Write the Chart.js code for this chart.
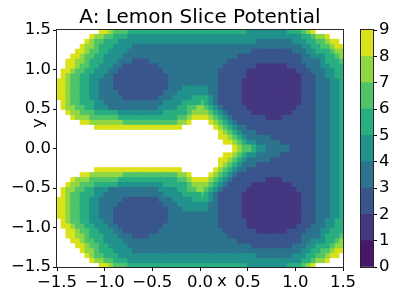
<!DOCTYPE html>
<html>
<head>
<meta charset="utf-8">
<script src="https://cdn.jsdelivr.net/npm/chart.js@4.4.1/dist/chart.umd.min.js"></script>
<style>
  html, body { margin: 0; padding: 0; background: #fff; }
  #wrap { position: relative; width: 399px; height: 299px; }
  #main { position: absolute; left: 0; top: 0; }
  #cbar { position: absolute; left: 350px; top: 0; }
</style>
</head>
<body>
<div id="wrap">
  <canvas id="main" width="399" height="299"></canvas>
  <canvas id="cbar" width="49" height="299"></canvas>
</div>
<script>
// cell centres of the sampled grid (x left->right, y top->bottom)
const xGrid = [-1.475,-1.425,-1.375,-1.325,-1.275,-1.225,-1.175,-1.125,-1.075,-1.025,
  -0.975,-0.925,-0.875,-0.825,-0.775,-0.725,-0.675,-0.625,-0.575,-0.525,
  -0.475,-0.425,-0.375,-0.325,-0.275,-0.225,-0.175,-0.125,-0.075,-0.025,
  0.025,0.075,0.125,0.175,0.225,0.275,0.325,0.375,0.425,0.475,
  0.525,0.575,0.625,0.675,0.725,0.775,0.825,0.875,0.925,0.975,
  1.025,1.075,1.125,1.175,1.225,1.275,1.325,1.375,1.425,1.475];
const yGrid = [1.46875,1.40625,1.34375,1.28125,1.21875,1.15625,1.09375,1.03125,
  0.96875,0.90625,0.84375,0.78125,0.71875,0.65625,0.59375,0.53125,
  0.46875,0.40625,0.34375,0.28125,0.21875,0.15625,0.09375,0.03125,
  -0.03125,-0.09375,-0.15625,-0.21875,-0.28125,-0.34375,-0.40625,-0.46875,
  -0.53125,-0.59375,-0.65625,-0.71875,-0.78125,-0.84375,-0.90625,-0.96875,
  -1.03125,-1.09375,-1.15625,-1.21875,-1.28125,-1.34375,-1.40625,-1.46875];

// contour band of each cell ('.' = above 9, left white)
const bandRows = [
  ".........8 8766655555 5555555555 5555555555 4444444455 5678......",
  ".......877 6655544444 4444444444 4444444444 4444444444 4556778...",
  "......8766 5554444444 4444444444 4444444444 4433333334 445566788.",
  ".....87765 5544443333 3333333333 3333333333 3333333333 3445566788",
  "....887665 5444433333 3333333333 3333333333 3222222223 3344555677",
  "...8876655 4444333333 3333333333 3333333322 2222222222 2334445567",
  "..88776555 4443332223 3333333333 3333332222 2222222222 2333345556",
  "..88766554 4433222222 2333333333 3333322222 2211111122 2233344555",
  ".887665544 4332222222 2233333333 3333222222 1111111111 2223334455",
  ".876655444 3322222222 2223333333 3333222222 1111111111 1222334455",
  "8876655443 3322222222 2223333333 3333222221 1111111111 1222333445",
  "8876655443 3322222222 2223334444 4433222221 1111111111 1222333445",
  "8876655443 3332222222 2233344444 4433222221 1111111111 1222333445",
  "8876655443 3333222222 2333444455 5543222221 1111111111 1222333445",
  ".876655544 3333333333 3344445555 6543222221 1111111111 1222333445",
  ".877665544 4333333333 3444455667 7654322222 1111111111 2222333445",
  "..87766655 5554444444 4455555677 7765432222 2111111112 2222333445",
  "...8777666 6665555555 5555566788 8876543222 2222111222 2222333445",
  ".....88777 7777666666 66666778.. ..87654322 2222222222 2222333445",
  "........88 8888888888 888888.... ...8765433 2222222222 2222333445",
  ".......... .......... .......... ....876543 3322222222 2222333445",
  ".......... .......... .......... ....887654 3333322222 2222333445",
  ".......... .......... .......... .....88765 4433333222 2222333445",
  ".......... .......... .......... .......876 6544333332 2222333445",
  ".......... .......... .......... .......876 6544333332 2222333445",
  ".......... .......... .......... .....88765 4433333222 2222333445",
  ".......... .......... .......... ....887654 3333322222 2222333445",
  ".......... .......... .......... ....876543 3322222222 2222333445",
  "........88 8888888888 888888.... ...8765433 2222222222 2222333445",
  ".....88777 7777666666 66666778.. ..87654322 2222222222 2222333445",
  "...8777666 6665555555 5555566788 8876543222 2222111222 2222333445",
  "..87766655 5554444444 4455555677 7765432222 2111111112 2222333445",
  ".877665544 4333333333 3444455667 7654322222 1111111111 2222333445",
  ".876655544 3333333333 3344445555 6543222221 1111111111 1222333445",
  "8876655443 3333222222 2333444455 5543222221 1111111111 1222333445",
  "8876655443 3332222222 2233344444 4433222221 1111111111 1222333445",
  "8876655443 3322222222 2223334444 4433222221 1111111111 1222333445",
  "8876655443 3322222222 2223333333 3333222221 1111111111 1222333445",
  ".876655444 3322222222 2223333333 3333222222 1111111111 1222334455",
  ".887665544 4332222222 2233333333 3333222222 1111111111 2223334455",
  "..88766554 4433222222 2333333333 3333322222 2211111122 2233344555",
  "..88776555 4443332223 3333333333 3333332222 2222222222 2333345556",
  "...8876655 4444333333 3333333333 3333333322 2222222222 2334445567",
  "....887665 5444433333 3333333333 3333333333 3222222223 3344555677",
  ".....87765 5544443333 3333333333 3333333333 3333333333 3445566788",
  "......8766 5554444444 4444444444 4444444444 4433333334 445566788.",
  ".......877 6655544444 4444444444 4444444444 4444444444 4556778...",
  ".........8 8766655555 5555555555 5555555555 4444444455 5678......"
];

const levels = [0, 1, 2, 3, 4, 5, 6, 7, 8, 9];
const levelColors = ['#481769', '#453681', '#39558c', '#2c738e', '#21918c',
                     '#28ae80', '#50c46a', '#8fd744', '#dae319'];
const axisTicks = [-1.5, -1.0, -0.5, 0.0, 0.5, 1.0, 1.5];
const cbarTicks = [0, 1, 2, 3, 4, 5, 6, 7, 8, 9];

const tickFont = { family: 'DejaVu Sans', size: 16.5 };
const fmt = v => (v < 0 ? '\u2212' : '') + Math.abs(v).toFixed(1);

// square marker big enough to cover its cell plus ~1px, so no seams show
function cellRadius(ctx) {
    const sx = ctx.chart.scales.x, sy = ctx.chart.scales.y;
    if (!sx || !sy) return 4.9;
    const w = Math.abs(sx.getPixelForValue(xGrid[1]) - sx.getPixelForValue(xGrid[0]));
    const h = Math.abs(sy.getPixelForValue(yGrid[1]) - sy.getPixelForValue(yGrid[0]));
    return (Math.max(w, h) / 2 + 1) * Math.SQRT2;
}

// one scatter dataset per band, square markers fill the cells
const datasets = levelColors.map((color, k) => {
    const pts = [];
    bandRows.forEach((row, j) => {
        row.replace(/ /g, '').split('').forEach((c, i) => {
            if (c === String(k)) pts.push({ x: xGrid[i], y: yGrid[j] });
        });
    });
    return {
        label: levels[k] + '-' + levels[k + 1],
        data: pts,
        pointStyle: 'rect',
        pointRadius: cellRadius,
        pointBorderWidth: 0,
        backgroundColor: color,
        borderWidth: 0
    };
});

const tickGrid = { display: true, drawOnChartArea: false, drawTicks: true,
                   tickLength: 4, tickColor: '#000', tickWidth: 1 };

const framePlugin = {
    id: 'frame',
    afterDraw(chart) {
        const { ctx, chartArea: a } = chart;
        ctx.save();
        ctx.strokeStyle = '#262626';
        ctx.lineWidth = 1;
        ctx.strokeRect(a.left - 0.5, a.top - 0.5, a.right - a.left + 1, a.bottom - a.top + 1);
        if (chart.canvas.id === 'main') {
            ctx.fillStyle = '#000';
            ctx.font = '16.5px "DejaVu Sans"';
            ctx.textAlign = 'center';
            ctx.textBaseline = 'middle';
            ctx.fillText('x', (a.left + a.right) / 2 + 22, a.bottom + 15);
            ctx.translate(a.left - 18.5, (a.top + a.bottom) / 2 - 25.5);
            ctx.rotate(-Math.PI / 2);
            ctx.fillText('y', 0, 0);
        }
        ctx.restore();
    }
};

new Chart(document.getElementById('main'), {
    type: 'scatter',
    data: { datasets },
    options: {
        responsive: false,
        animation: false,
        events: [],
        layout: { padding: { left: 0, right: 56, top: 0, bottom: 0 } },
        plugins: {
            legend: { display: false },
            tooltip: { enabled: false },
            title: {
                display: true,
                text: 'A: Lemon Slice Potential',
                fullSize: false,
                color: '#000',
                font: { family: 'DejaVu Sans', size: 20, weight: 'normal' },
                padding: { top: 6, bottom: 0 }
            }
        },
        scales: {
            x: {
                type: 'linear', min: -1.5, max: 1.5,
                afterBuildTicks: s => { s.ticks = axisTicks.map(v => ({ value: v })); },
                afterFit: s => { s.height = 32; },
                ticks: { callback: v => fmt(v), color: '#000', font: tickFont,
                         padding: 2, maxRotation: 0, autoSkip: false },
                grid: tickGrid,
                border: { display: false }
            },
            y: {
                type: 'linear', min: -1.5, max: 1.5,
                afterBuildTicks: s => { s.ticks = axisTicks.map(v => ({ value: v })); },
                afterFit: s => { s.width = 57; },
                ticks: { callback: v => fmt(v), color: '#000', font: tickFont,
                         padding: 2, autoSkip: false },
                grid: tickGrid,
                border: { display: false }
            }
        }
    },
    plugins: [framePlugin]
});

// colour bar
new Chart(document.getElementById('cbar'), {
    type: 'bar',
    data: {
        labels: [''],
        datasets: levelColors.map((color, k) => ({
            data: [levels[k + 1] - levels[k]],
            backgroundColor: color,
            borderWidth: 0,
            barPercentage: 1,
            categoryPercentage: 1
        }))
    },
    options: {
        responsive: false,
        animation: false,
        events: [],
        layout: { padding: { left: 11, right: 0, top: 30, bottom: 32 } },
        plugins: { legend: { display: false }, tooltip: { enabled: false } },
        scales: {
            x: { display: false, stacked: true },
            y: {
                position: 'right', stacked: true, min: 0, max: 9,
                afterBuildTicks: s => { s.ticks = cbarTicks.map(v => ({ value: v })); },
                afterFit: s => { s.width = 26; },
                ticks: { color: '#000', font: tickFont, padding: 2, autoSkip: false },
                grid: tickGrid,
                border: { display: false }
            }
        }
    },
    plugins: [framePlugin]
});
</script>
</body>
</html>
